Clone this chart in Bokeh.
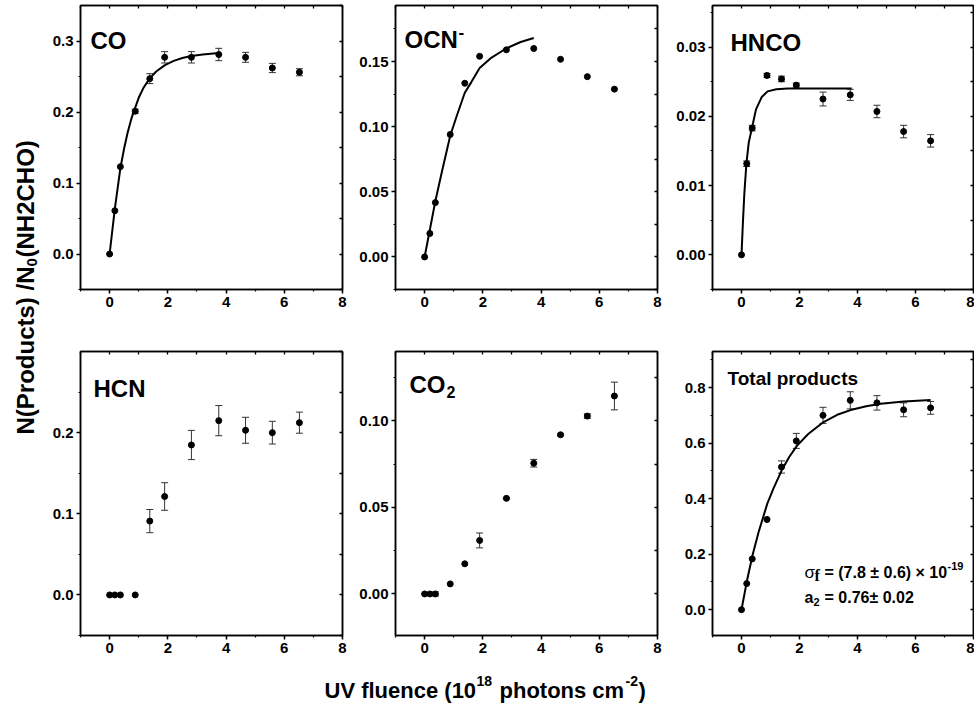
from bokeh.plotting import figure
from bokeh.layouts import row, column
from bokeh.models import (Range1d, LinearAxis, SingleIntervalTicker, FixedTicker,
                          PrintfTickFormatter, Label, Whisker, TeeHead, ColumnDataSource)
from bokeh.embed import file_html
from bokeh.resources import INLINE
import math

FONT = "Liberation Sans"

# ---------------- data ----------------
fluence = [0, 0.18, 0.37, 0.88, 1.38, 1.89, 2.81, 3.75, 4.67, 5.59, 6.52]

co = [0, 0.061, 0.123, 0.201, 0.247, 0.277, 0.277, 0.281, 0.277, 0.262, 0.256]
co_err = [0, 0, 0, 0.003, 0.007, 0.008, 0.008, 0.0087, 0.007, 0.0065, 0.005]
co_fit_x = [0, 0.18, 0.37, 0.5, 0.62, 0.75, 0.87, 1.0, 1.15, 1.37, 1.6, 1.9, 2.2, 2.5, 2.8, 3.2, 3.75]
co_fit_y = [0, 0.064, 0.121, 0.149, 0.171, 0.191, 0.205, 0.220, 0.233, 0.247, 0.257, 0.266,
            0.272, 0.276, 0.279, 0.281, 0.283]

ocn = [0, 0.018, 0.0417, 0.094, 0.1333, 0.154, 0.159, 0.160, 0.1517, 0.1384, 0.1288]
ocn_err = [0, 0, 0, 0, 0, 0, 0, 0, 0, 0, 0]
ocn_fit_x = [0, 0.19, 0.37, 0.6, 0.88, 1.1, 1.38, 1.6, 1.89, 2.3, 2.8, 3.3, 3.75]
ocn_fit_y = [0, 0.022, 0.043, 0.066, 0.093, 0.108, 0.126, 0.134, 0.145, 0.153, 0.160, 0.165, 0.168]

hnco = [0, 0.01316, 0.0183, 0.0259, 0.0254, 0.0245, 0.0225, 0.0231, 0.0207, 0.0178, 0.01646]
hnco_err = [0, 0.0004, 0.0004, 0.0003, 0.0004, 0.0003, 0.001, 0.0008, 0.0009, 0.0009, 0.0009]
hnco_fit_x = [0, 0.05, 0.1, 0.17, 0.25, 0.37, 0.5, 0.7, 0.9, 1.2, 1.6, 2.5, 3.8]
hnco_fit_y = [0, 0.0048, 0.0090, 0.0132, 0.0162, 0.0185, 0.0210, 0.0228, 0.0236, 0.0239,
              0.0240, 0.0240, 0.0240]

hcn = [0, 0, 0, 0, 0.091, 0.1213, 0.1848, 0.2148, 0.2029, 0.200, 0.2123]
hcn_err = [0, 0, 0, 0, 0.0143, 0.017, 0.018, 0.0186, 0.016, 0.014, 0.013]

co2 = [0, 0, 0, 0.0058, 0.0174, 0.0309, 0.0552, 0.0755, 0.0919, 0.1027, 0.1143]
co2_err = [0, 0, 0.0012, 0, 0, 0.0043, 0.0005, 0.0022, 0.0005, 0.0013, 0.008]

total = [0, 0.094, 0.183, 0.325, 0.514, 0.608, 0.700, 0.754, 0.745, 0.720, 0.727]
total_err = [0, 0, 0, 0, 0.022, 0.027, 0.029, 0.031, 0.026, 0.025, 0.023]
total_fit_x = [0, 0.19, 0.38, 0.6, 0.89, 1.1, 1.39, 1.65, 1.91, 2.3, 2.83, 3.3, 3.76, 4.3,
               4.8, 5.6, 6.52]
total_fit_y = [0, 0.105, 0.196, 0.283, 0.382, 0.436, 0.503, 0.551, 0.590, 0.633, 0.676,
               0.702, 0.719, 0.733, 0.742, 0.750, 0.755]

x_range = (-1, 8)
x_step = 2
y_ranges = {
    "CO": (-0.05, 0.35), "OCN": (-0.025, 0.193), "HNCO": (-0.005, 0.036),
    "HCN": (-0.05, 0.30), "CO2": (-0.024, 0.14), "TOT": (-0.093, 0.93),
}
y_steps = {"CO": 0.1, "OCN": 0.05, "HNCO": 0.01, "HCN": 0.1, "CO2": 0.05, "TOT": 0.2}
y_fmts = {"CO": "%.1f", "OCN": "%.2f", "HNCO": "%.2f", "HCN": "%.1f", "CO2": "%.2f", "TOT": "%.1f"}


def half_steps(lo, hi, step):
    h = step / 2.0
    k0 = math.ceil(lo / h - 1e-9)
    k1 = math.floor(hi / h + 1e-9)
    return [round(k * h, 6) for k in range(k0, k1 + 1)]


def style_axis(ax, tin, tout):
    ax.axis_line_color = "black"
    ax.axis_line_width = 1.5
    ax.major_tick_line_color = "black"
    ax.major_tick_line_width = 1.5
    ax.minor_tick_line_color = "black"
    ax.minor_tick_line_width = 1.2
    ax.major_tick_in = tin
    ax.major_tick_out = tout
    ax.minor_tick_in = tin // 2
    ax.minor_tick_out = tout // 2
    ax.major_label_text_font = FONT
    ax.major_label_text_font_style = "bold"
    ax.major_label_text_font_size = "15px"
    ax.major_label_text_color = "black"
    ax.major_label_standoff = 3


def mirror_axis(ticks):
    # an axis with only (unlabelled) inward ticks
    ax = LinearAxis(ticker=FixedTicker(ticks=[], minor_ticks=ticks))
    ax.axis_line_color = "black"
    ax.axis_line_width = 1.5
    ax.minor_tick_line_color = "black"
    ax.minor_tick_line_width = 1.3
    ax.minor_tick_in = 3
    ax.minor_tick_out = 0
    ax.major_tick_in = 0
    ax.major_tick_out = 0
    ax.major_label_standoff = 0
    return ax


def make_panel(key, width, height, bl, br, bt, bb):
    yr = y_ranges[key]
    p = figure(width=width, height=height, x_range=Range1d(*x_range), y_range=Range1d(*yr),
               output_backend="svg", toolbar_location=None,
               min_border_left=bl, min_border_right=br, min_border_top=bt, min_border_bottom=bb)
    p.xgrid.visible = False
    p.ygrid.visible = False
    p.outline_line_color = "black"
    p.outline_line_width = 1.5
    p.background_fill_color = "white"
    p.border_fill_color = "white"
    p.xaxis.ticker = SingleIntervalTicker(interval=x_step, num_minor_ticks=2)
    p.yaxis.ticker = SingleIntervalTicker(interval=y_steps[key], num_minor_ticks=2)
    p.xaxis.formatter = PrintfTickFormatter(format="%d")
    p.yaxis.formatter = PrintfTickFormatter(format=y_fmts[key])
    for ax in p.xaxis:
        style_axis(ax, 0, 4)
    for ax in p.yaxis:
        style_axis(ax, 0, 4)
    p.add_layout(mirror_axis(half_steps(x_range[0], x_range[1], x_step)), "above")
    p.add_layout(mirror_axis(half_steps(yr[0], yr[1], y_steps[key])), "right")
    return p


def add_points(p, x, y, err):
    xs = [a for a, e in zip(x, err) if e > 0]
    lo = [b - e for b, e in zip(y, err) if e > 0]
    hi = [b + e for b, e in zip(y, err) if e > 0]
    if xs:
        src = ColumnDataSource(dict(x=xs, lo=lo, hi=hi))
        p.add_layout(Whisker(source=src, base="x", lower="lo", upper="hi", dimension="height",
                             line_color="#333333", line_width=1,
                             upper_head=TeeHead(size=7, line_color="#333333", line_width=1),
                             lower_head=TeeHead(size=7, line_color="#333333", line_width=1)))
    p.scatter(x, y, size=6, color="black")


def add_label(p, key, text, dx, dy, size, style="bold", font=FONT):
    yr = y_ranges[key]
    p.add_layout(Label(x=x_range[0], y=yr[1], x_offset=dx, y_offset=-dy, text=text,
                       text_font=font, text_font_style=style, text_font_size=size,
                       text_color="black", text_align="left", text_baseline="alphabetic"))


# layout sizes (page has no margin: Bokeh's template sets body margin 0)
YL_W = 44
W1, W2, W3 = 311, 315, 304
BL = (36, 40, 42)
BR = (13, 13, 1)
H_TOP, H_BOT, XL_H = 330, 335, 55

p1 = make_panel("CO", W1, H_TOP, BL[0], BR[0], 5, 41)
add_points(p1, fluence, co, co_err)
p1.line(co_fit_x, co_fit_y, line_width=2, color="black")
add_label(p1, "CO", "CO", 10, 35, "24px")

p2 = make_panel("OCN", W2, H_TOP, BL[1], BR[1], 5, 41)
add_points(p2, fluence, ocn, ocn_err)
p2.line(ocn_fit_x, ocn_fit_y, line_width=2, color="black")
add_label(p2, "OCN", "OCN", 9, 34, "24px")
add_label(p2, "OCN", "-", 63, 26, "17px")

p3 = make_panel("HNCO", W3, H_TOP, BL[2], BR[2], 5, 41)
add_points(p3, fluence, hnco, hnco_err)
p3.line(hnco_fit_x, hnco_fit_y, line_width=2, color="black")
add_label(p3, "HNCO", "HNCO", 18, 37, "24px")

p4 = make_panel("HCN", W1, H_BOT, BL[0], BR[0], 21, 30)
add_points(p4, fluence, hcn, hcn_err)
add_label(p4, "HCN", "HCN", 13, 37, "24px")

p5 = make_panel("CO2", W2, H_BOT, BL[1], BR[1], 21, 30)
add_points(p5, fluence, co2, co2_err)
add_label(p5, "CO2", "CO", 14, 33, "24px")
add_label(p5, "CO2", "2", 51, 40, "16px")

p6 = make_panel("TOT", W3, H_BOT, BL[2], BR[2], 21, 30)
add_points(p6, fluence, total, total_err)
p6.line(total_fit_x, total_fit_y, line_width=2, color="black")
add_label(p6, "TOT", "Total products", 15, 27, "19px")
add_label(p6, "TOT", "\u03c3", 92, 221, "17px", style="normal")
add_label(p6, "TOT", "f", 102, 224, "16px", style="bold", font="Liberation Serif")
add_label(p6, "TOT", "= (7.8 \u00b1 0.6) \u00d7 10", 112, 221, "16px")
add_label(p6, "TOT", "-19", 235, 214, "11px")
add_label(p6, "TOT", "a", 92, 246, "16px")
add_label(p6, "TOT", "2", 101, 250, "11px")
add_label(p6, "TOT", "= 0.76\u00b1 0.02", 112, 246, "16px")

# y axis title (shared), figure-local pixel frame
YL_H = H_TOP + H_BOT
ylab = figure(width=YL_W, height=YL_H, x_range=Range1d(0, YL_W), y_range=Range1d(0, YL_H),
              output_backend="svg", toolbar_location=None, x_axis_location=None,
              y_axis_location=None, min_border=0, outline_line_color=None)
ylab.xgrid.visible = False
ylab.ygrid.visible = False
for txt, xx, yy, sz in [("N(Products) /N", 25, 231, "24px"), ("0", 31, 399, "15px"),
                        ("(NH2CHO)", 25, 408, "24px")]:
    ylab.add_layout(Label(x=xx, y=yy, text=txt, angle=math.pi / 2, text_font=FONT,
                          text_font_style="bold", text_font_size=sz, text_color="black",
                          text_align="left", text_baseline="alphabetic"))

# x axis title (shared)
XL_W = YL_W + W1 + W2 + W3
xlab = figure(width=XL_W, height=XL_H, x_range=Range1d(0, XL_W), y_range=Range1d(0, XL_H),
              output_backend="svg", toolbar_location=None, x_axis_location=None,
              y_axis_location=None, min_border=0, outline_line_color=None)
xlab.xgrid.visible = False
xlab.ygrid.visible = False
for txt, xx, yy, sz in [("UV fluence (10", 324, 30, "22px"), ("18", 476, 40, "14px"),
                        ("photons cm", 499, 30, "22px"), ("-2", 625, 40, "14px"),
                        (")", 638, 30, "22px")]:
    xlab.add_layout(Label(x=xx, y=yy, text=txt, text_font=FONT, text_font_style="bold",
                          text_font_size=sz, text_color="black", text_align="left",
                          text_baseline="alphabetic"))

grid = column(row(p1, p2, p3), row(p4, p5, p6))
page = column(row(ylab, grid), xlab)

open("out.html", "w").write(file_html(page, INLINE))
